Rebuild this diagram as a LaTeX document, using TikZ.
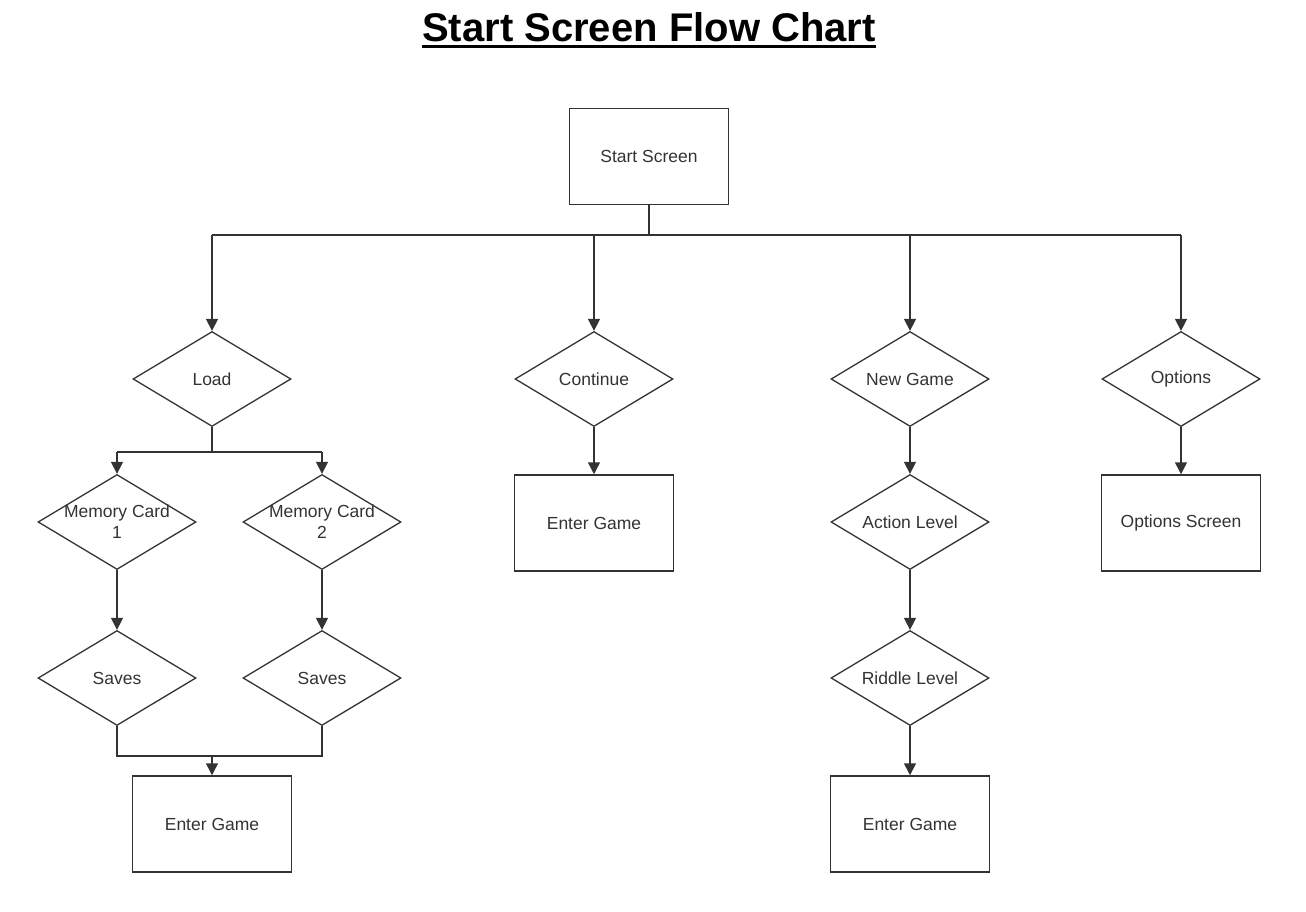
\documentclass[tikz,border=0pt]{standalone}
\usepackage{fontspec}
\setmainfont{Liberation Sans}
\usetikzlibrary{arrows.meta}
\usetikzlibrary{shapes.geometric}

\begin{document}
\begin{tikzpicture}[x=1pt,y=-1pt,line width=1.5pt,
    txt/.style={font=\fontsize{17.5}{21}\selectfont,text=black!80},
    box/.style={draw=black!80,rectangle,minimum width=159pt,minimum height=96pt,inner sep=0pt,txt},
    choice/.style={draw=black!80,line width=1.3pt,diamond,minimum width=158pt,minimum height=95pt,inner sep=0pt},
    arr/.style={-{Triangle[length=12pt,width=12pt]}}]
      \useasboundingbox (0,0) rectangle (1306,912);
      \node[font=\fontsize{40}{44}\selectfont\bfseries,anchor=base,inner sep=0pt] (title) at (649,42) {Start Screen Flow Chart};
      \draw[line width=3pt] ([yshift=-5pt]title.base west) -- ([yshift=-5pt]title.base east);

      \node[box] (start) at (649,156.5) {Start Screen};
      \coordinate (bus) at (649,235);

      % first row of choices
      \node[choice,label={[txt]center:Load}] (load) at (212,379) {};
      \node[choice,label={[txt]center:Continue}] (cont) at (594,379) {};
      \node[choice,label={[txt]center:New Game}] (new) at (910,379) {};
      \node[choice,label={[txt]center:Options}] (opts) at (1181,379) {};

      % load branch
      \coordinate (split) at (212,452);
      \node[choice,label={[txt,align=center]center:Memory Card\\1}] (mc1) at (117,522) {};
      \node[choice,label={[txt,align=center]center:Memory Card\\2}] (mc2) at (322,522) {};
      \node[choice,label={[txt]center:Saves}] (sv1) at (117,678) {};
      \node[choice,label={[txt]center:Saves}] (sv2) at (322,678) {};
      \coordinate (merge) at (212,756);
      \node[box] (eg1) at (212,824) {Enter Game};

      \node[box] (eg2) at (594,523) {Enter Game};

      \node[choice,label={[txt]center:Action Level}] (act) at (910,522) {};
      \node[choice,label={[txt]center:Riddle Level}] (rid) at (910,678) {};
      \node[box] (eg3) at (910,824) {Enter Game};

      \node[box] (optscr) at (1181,523) {Options Screen};

      \begin{scope}[draw=black!80]
          \draw (start.south) -- (bus);
          \draw (load.north |- bus) -- (opts.north |- bus);
          \draw[arr] (load.north |- bus) -- (load.north);
          \draw[arr] (cont.north |- bus) -- (cont.north);
          \draw[arr] (new.north |- bus) -- (new.north);
          \draw[arr] (opts.north |- bus) -- (opts.north);

          \draw (load.south) -- (split);
          \draw (mc1.north |- split) -- (mc2.north |- split);
          \draw[arr] (mc1.north |- split) -- (mc1.north);
          \draw[arr] (mc2.north |- split) -- (mc2.north);
          \draw[arr] (mc1) -- (sv1);
          \draw[arr] (mc2) -- (sv2);
          \draw (sv1.south) |- (merge) -| (sv2.south);
          \draw[arr] (merge) -- (eg1);

          \draw[arr] (cont) -- (eg2);
          \draw[arr] (new) -- (act);
          \draw[arr] (act) -- (rid);
          \draw[arr] (rid) -- (eg3);
          \draw[arr] (opts) -- (optscr);
      \end{scope}
    \end{tikzpicture}
\end{document}
